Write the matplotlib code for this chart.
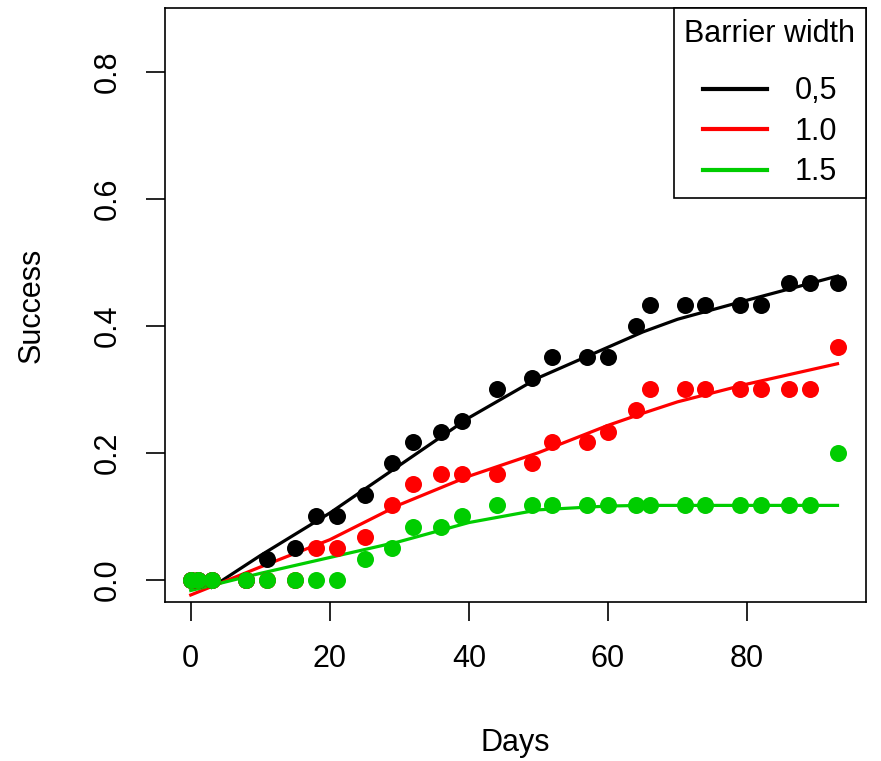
import numpy as np
import matplotlib
matplotlib.use("Agg")
import matplotlib.pyplot as plt

plt.rcParams['font.family'] = ['Liberation Sans', 'DejaVu Sans']

# observation days
days = [0, 1, 3, 8, 11, 15, 18, 21, 25, 29, 32, 36, 39, 44, 49, 52, 57, 60,
        64, 66, 71, 74, 79, 82, 86, 89, 93]

# observed success per barrier width
succ_05 = [0, 0, 0, 0, 0.033, 0.05, 0.1, 0.1, 0.133, 0.183, 0.217, 0.233, 0.25,
           0.3, 0.317, 0.35, 0.35, 0.35, 0.4, 0.433, 0.433, 0.433, 0.433, 0.433,
           0.467, 0.467, 0.467]
succ_10 = [0, 0, 0, 0, 0, 0, 0.05, 0.05, 0.067, 0.117, 0.15, 0.167, 0.167,
           0.167, 0.183, 0.217, 0.217, 0.233, 0.267, 0.3, 0.3, 0.3, 0.3, 0.3,
           0.3, 0.3, 0.367]
succ_15 = [0, 0, 0, 0, 0, 0, 0, 0, 0.033, 0.05, 0.083, 0.083, 0.1,
           0.117, 0.117, 0.117, 0.117, 0.117, 0.117, 0.117, 0.117, 0.117,
           0.117, 0.117, 0.117, 0.117, 0.2]

# fitted curves
fit_days_05 = [3, 10, 20, 30, 40, 50, 60, 65, 70, 80, 93]
fit_05 = [-0.012, 0.038, 0.105, 0.18, 0.255, 0.318, 0.366, 0.39, 0.41, 0.44, 0.478]
fit_days = [0, 10, 20, 30, 40, 50, 60, 65, 70, 80, 93]
fit_10 = [-0.024, 0.02, 0.063, 0.118, 0.163, 0.2, 0.243, 0.262, 0.28, 0.308, 0.34]
fit_15 = [-0.017, 0.01, 0.035, 0.06, 0.09, 0.11, 0.116, 0.117, 0.117, 0.117, 0.117]

widths = ["0,5", "1.0", "1.5"]
green = "#00CD00"

fig = plt.figure(figsize=(8.81, 7.61), dpi=100)
ax = fig.add_axes([0.187, 0.209, 0.796, 0.7805])

ax.scatter(days, succ_05, s=150, color="black", zorder=3, linewidths=0)
ax.scatter(days, succ_10, s=150, color="red", zorder=3, linewidths=0)
ax.scatter(days, succ_15, s=150, color=green, zorder=3, linewidths=0)

ax.plot(fit_days_05, fit_05, color="black", lw=2.3, label=widths[0], zorder=2)
ax.plot(fit_days, fit_10, color="red", lw=2.3, label=widths[1], zorder=2)
ax.plot(fit_days, fit_15, color=green, lw=2.3, label=widths[2], zorder=2)

ax.set_xlim(-3.74, 97.1)
ax.set_ylim(-0.035, 0.9)
ax.set_xticks([0, 20, 40, 60, 80])
ax.set_yticks([0.0, 0.2, 0.4, 0.6, 0.8])
ax.set_yticklabels(["0.0", "0.2", "0.4", "0.6", "0.8"], rotation=90, va="center")
ax.tick_params(axis="both", labelsize=22, length=14, width=1.2, pad=16)
for sp in ax.spines.values():
    sp.set_linewidth(1.2)

ax.set_xlabel("Days", fontsize=22, va="center")
ax.xaxis.set_label_coords(0.5, -0.237)
ax.set_ylabel("Success", fontsize=22, va="center")
ax.yaxis.set_label_coords(-0.19, 0.5)

leg = ax.legend(title="Barrier width", loc="upper right", fontsize=22,
                title_fontsize=22, fancybox=False, edgecolor="black",
                framealpha=1, borderaxespad=0, handlelength=2.1,
                handletextpad=0.9, labelspacing=0.34, borderpad=0.35)
leg._legend_box.sep = 20  # extra gap below the title, like R
leg.get_frame().set_linewidth(1.2)
for line in leg.get_lines():
    line.set_linewidth(3)

fig.savefig("out.png", dpi=100)
